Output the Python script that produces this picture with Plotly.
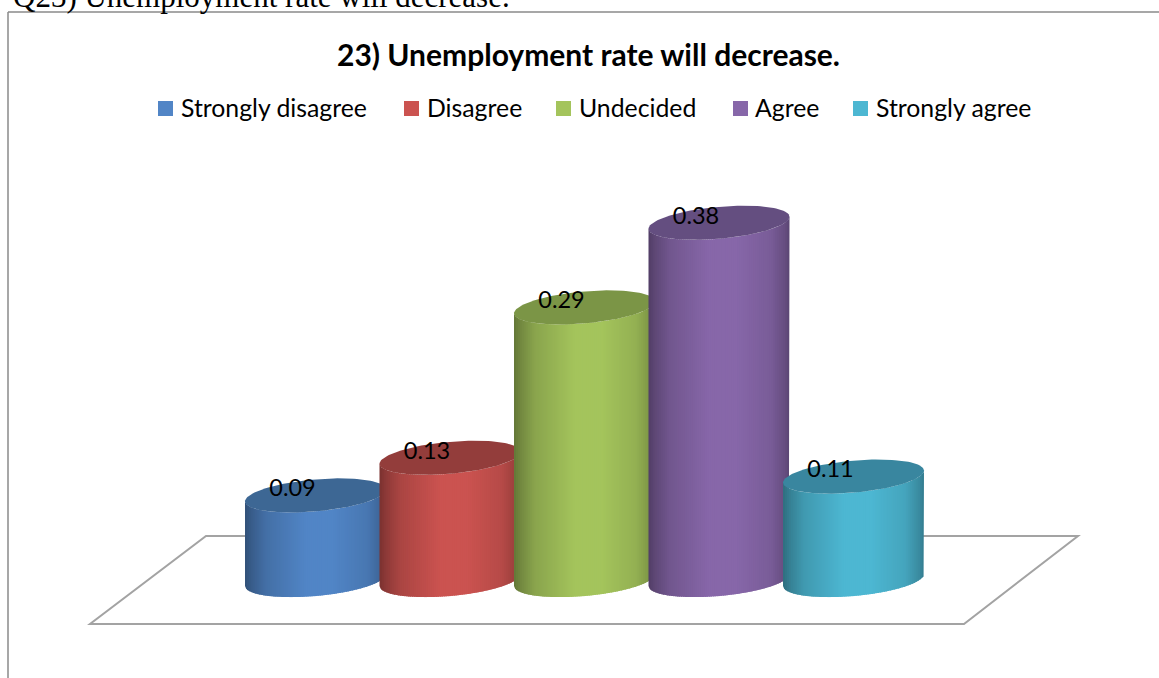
import plotly.graph_objects as go
import numpy as np

W, H = 1159, 678

title = "23) Unemployment rate will decrease."
heading = "Q23) Unemployment rate will decrease."
categories = ["Strongly disagree", "Disagree", "Undecided", "Agree", "Strongly agree"]
shares = [0.09, 0.13, 0.29, 0.38, 0.11]
base_colors = ["#5185C6", "#CB5350", "#A4C45C", "#8767A9", "#4DB7D2"]
cap_colors = ["#3D6794", "#933D3B", "#7B9546", "#644E80", "#39869F"]

# Pixel scale of the category and value axes
PX_PER_CAT = 134.5
PX_PER_UNIT = 940.0
X0_PX, Y0_PX = 315.5, 580.0
x_range = [-X0_PX / PX_PER_CAT, (W - X0_PX) / PX_PER_CAT]
y_range = [(Y0_PX - H) / PX_PER_UNIT, Y0_PX / PX_PER_UNIT]

# Cylinder cross-section, seen tilted so that the right side rises
RADIUS = 70.5 / PX_PER_CAT
MINOR = 16.0 / PX_PER_UNIT
TILT = 6.0 / PX_PER_UNIT

# Horizontal shading across a cylinder body
shade_u = [0.0, 0.04, 0.14, 0.42, 0.62, 0.86, 0.96, 1.0]
shade_k = [0.62, 0.70, 0.84, 1.0, 1.0, 0.90, 0.76, 0.66]


def scale(color, k):
    rgb = [int(color[i:i + 2], 16) for i in (1, 3, 5)]
    return "rgb({},{},{})".format(*[int(min(255, c * k)) for c in rgb])


def front_edge(u, level):
    return level + TILT * u - MINOR * np.sqrt(np.clip(1 - u * u, 0, 1))


fig = go.Figure()
SLICES = 70
edges = np.linspace(-1, 1, SLICES + 1)

for i, (value, color, cap) in enumerate(zip(shares, base_colors, cap_colors)):
    # Body: narrow shaded strips, each overlapping the next to hide seams
    for j in range(SLICES):
        lo, hi = edges[j], min(1.0, edges[j + 1] + 0.02)
        u = np.linspace(lo, hi, 4)
        top = front_edge(u, value)
        bottom = front_edge(u, 0.0)
        k = np.interp((lo + 1) / 2, shade_u, shade_k)
        fig.add_trace(go.Scatter(
            x=np.r_[i + u * RADIUS, i + u[::-1] * RADIUS],
            y=np.r_[top, bottom[::-1]],
            mode="lines", fill="toself", line=dict(width=0),
            fillcolor=scale(color, k), hoverinfo="skip", showlegend=False,
        ))
    # Top face
    t = np.linspace(0, 2 * np.pi, 121)
    fig.add_trace(go.Scatter(
        x=i + RADIUS * np.cos(t),
        y=value + TILT * np.cos(t) + MINOR * np.sin(t),
        mode="lines", fill="toself", line=dict(width=0),
        fillcolor=cap, name=categories[i], showlegend=False,
    ))

# Value labels sit on the left half of each top face
fig.add_trace(go.Scatter(
    x=[i - 23 / PX_PER_CAT for i in range(len(shares))],
    y=[v + 5 / PX_PER_UNIT for v in shares],
    mode="text", text=[f"{v:.2f}" for v in shares], textposition="middle center",
    textfont=dict(family="Lato", size=23.5, color="#000000"),
    hoverinfo="skip", showlegend=False,
))


def px(x):
    return x / W


def py(y):
    return 1 - y / H


GREY = "#A3A3A3"
shapes = [
    # Floor of the plot area
    dict(type="path", path=f"M {px(206)} {py(536)} L {px(1078)} {py(536)} L {px(964)} {py(624)} L {px(90)} {py(624)} Z",
         xref="paper", yref="paper", line=dict(color=GREY, width=2), layer="below"),
    # Chart frame
    dict(type="line", xref="paper", yref="paper", x0=px(8), x1=px(8), y0=0, y1=py(12),
         line=dict(color="#8A8A8A", width=1.5)),
    dict(type="line", xref="paper", yref="paper", x0=px(8), x1=1, y0=py(12), y1=py(12),
         line=dict(color="#8A8A8A", width=1.5)),
]

swatch_x = [158, 404, 556, 733, 853]
label_x = [179, 425, 577, 753, 874]
annotations = [
    dict(text=f"<b>{title}</b>", x=px(588), y=py(54), xref="paper", yref="paper", showarrow=False,
         xanchor="center", yanchor="middle", font=dict(family="Lato", size=30, color="#000000")),
    dict(text=heading, x=px(11), y=py(-3.5), xref="paper", yref="paper", showarrow=False,
         xanchor="left", yanchor="middle", font=dict(family="Liberation Serif", size=31, color="#000000")),
]
for name, color, sx, lx in zip(categories, base_colors, swatch_x, label_x):
    shapes.append(dict(type="rect", xref="paper", yref="paper", x0=px(sx), x1=px(sx + 15),
                       y0=py(116), y1=py(101), fillcolor=color, line=dict(width=0)))
    annotations.append(dict(text=name, x=px(lx), y=py(107), xref="paper", yref="paper", showarrow=False,
                            xanchor="left", yanchor="middle",
                            font=dict(family="Lato", size=24.8, color="#000000")))

fig.update_layout(
    width=W, height=H, margin=dict(l=0, r=0, t=0, b=0),
    paper_bgcolor="#FFFFFF", plot_bgcolor="rgba(0,0,0,0)",
    xaxis=dict(range=x_range, visible=False, fixedrange=True),
    yaxis=dict(range=y_range, visible=False, fixedrange=True),
    shapes=shapes, annotations=annotations, showlegend=False,
)
fig.write_html("out.html", config=dict(displayModeBar=False))
